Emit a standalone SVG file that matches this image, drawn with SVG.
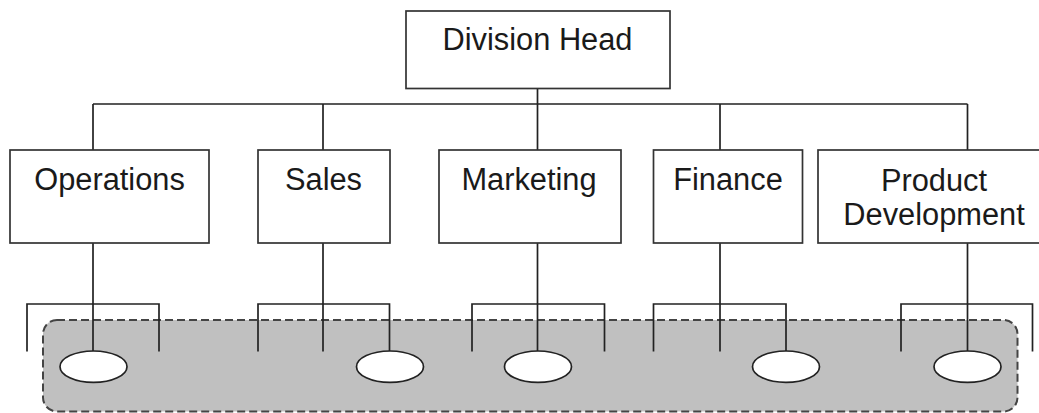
<svg xmlns="http://www.w3.org/2000/svg" width="1039" height="413" viewBox="0 0 1039 413">
  <style>
    .box { fill: #ffffff; stroke: #333333; stroke-width: 1.7; }
    .lbl { font-family: "Liberation Sans", Arial, sans-serif; font-size: 30.8px; fill: #1a1a1a; text-anchor: middle; }
    .ln { fill: none; stroke: #222222; stroke-width: 1.7; }
    .oval { fill: #ffffff; stroke: #222222; stroke-width: 1.7; }
    .group { fill: #c0c0c0; stroke: #444444; stroke-width: 2; stroke-dasharray: 8 4; }
  </style>
  <rect id="grouping" class="group" x="43" y="320" width="974.5" height="91.5" rx="14" ry="14"/>
  <g id="connectors">
    <path class="ln" d="M537.5 88 V150 M93 104 H967.5 M93 104 V150 M323 104 V150 M720 104 V150 M967.5 104 V150"/>
    <path class="ln" d="M93 243 V351 M27 351.5 V304 H159 V351.5"/>
    <path class="ln" d="M323 243 V351.5 M258 351.5 V304 H389.5 V351"/>
    <path class="ln" d="M537.5 243 V351 M472 351.5 V304 H604.5 V351.5"/>
    <path class="ln" d="M720 243 V351.5 M653.5 351.5 V304 H786 V351"/>
    <path class="ln" d="M967.5 243 V351 M901 351.5 V304 H1032.5 V351.5"/>
  </g>
  <g id="division-head">
    <rect class="box" x="406" y="11" width="264" height="77.5"/>
    <text class="lbl" x="537.5" y="49.5">Division Head</text>
  </g>
  <g id="operations">
    <rect class="box" x="10" y="150" width="199" height="93"/>
    <text class="lbl" x="109.5" y="189.5">Operations</text>
  </g>
  <g id="sales">
    <rect class="box" x="258" y="150" width="132" height="93"/>
    <text class="lbl" x="323.5" y="189.5">Sales</text>
  </g>
  <g id="marketing">
    <rect class="box" x="439" y="150" width="182" height="93"/>
    <text class="lbl" x="529" y="189.5">Marketing</text>
  </g>
  <g id="finance">
    <rect class="box" x="653.5" y="150" width="149" height="93"/>
    <text class="lbl" x="728" y="189.5">Finance</text>
  </g>
  <g id="product-development">
    <rect class="box" x="818" y="150" width="222" height="93"/>
    <text class="lbl" x="934" y="190.5">Product</text>
    <text class="lbl" x="934" y="225">Development</text>
  </g>
  <g id="unit-operations"><ellipse class="oval" cx="93.5" cy="366.7" rx="33.5" ry="15.7"/></g>
  <g id="unit-sales"><ellipse class="oval" cx="390" cy="366.7" rx="33.5" ry="15.7"/></g>
  <g id="unit-marketing"><ellipse class="oval" cx="538" cy="366.7" rx="33.5" ry="15.7"/></g>
  <g id="unit-finance"><ellipse class="oval" cx="786" cy="366.7" rx="33.5" ry="15.7"/></g>
  <g id="unit-product-development"><ellipse class="oval" cx="967.5" cy="366.7" rx="33.5" ry="15.7"/></g>
</svg>
